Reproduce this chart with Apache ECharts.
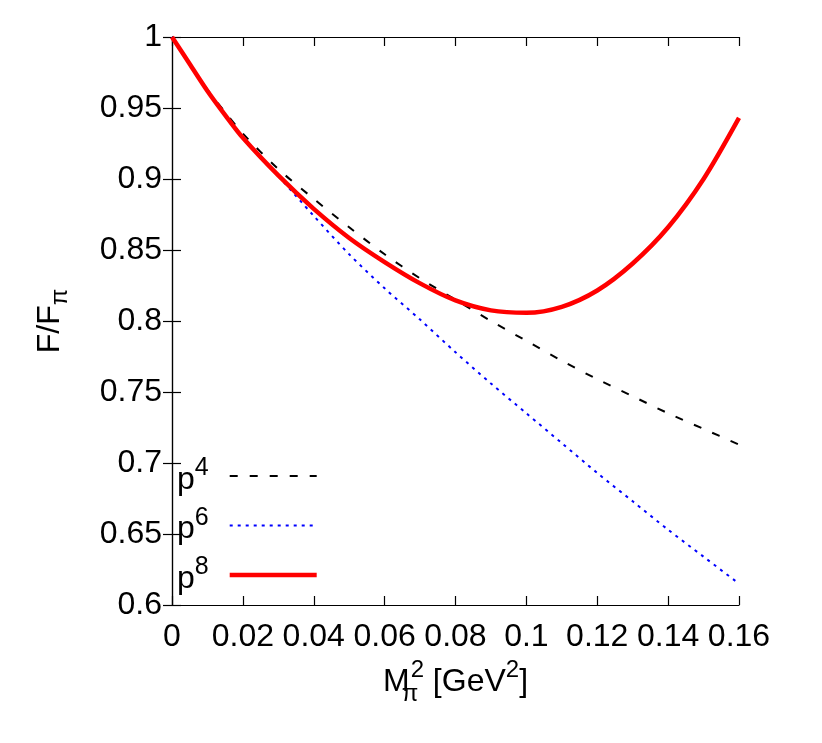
<!DOCTYPE html>
<html>
<head>
<meta charset="utf-8">
<script src="https://cdn.jsdelivr.net/npm/echarts@6/dist/echarts.min.js"></script>
<style>
  html, body { margin: 0; padding: 0; background: #fff; }
  #chart { width: 822px; height: 743px; }
</style>
</head>
<body>
<div id="chart"></div>
<script>
// M_pi^2 in GeV^2
var xs = [0, 0.005, 0.01, 0.015, 0.02, 0.03, 0.04, 0.05, 0.06, 0.07, 0.08, 0.09, 0.10, 0.11, 0.12, 0.13, 0.14, 0.15, 0.16];
// F/F_pi at each order
var p4 = [1.000, 0.981, 0.963, 0.947, 0.932, 0.907, 0.886, 0.866, 0.847, 0.830, 0.815, 0.800, 0.786, 0.772, 0.759, 0.747, 0.735, 0.724, 0.713];
var p6 = [1.000, 0.981, 0.962, 0.945, 0.929, 0.902, 0.874, 0.847, 0.823, 0.801, 0.778, 0.756, 0.735, 0.714, 0.693, 0.673, 0.653, 0.634, 0.615];
var p8 = [1.000, 0.981, 0.962, 0.945, 0.929, 0.9025, 0.879, 0.8585, 0.8415, 0.8265, 0.8145, 0.8075, 0.8058, 0.8100, 0.8215, 0.8405, 0.8660, 0.9000, 0.943];

var seriesNames = ['p4', 'p6', 'p8'];
var lineColors = ['#000000', '#0000ff', '#ff0000'];
var lineWidths = [2, 2, 4.5];
var font = 'Liberation Sans, Arial, sans-serif';

function pairs(ys) {
  return xs.map(function (x, i) { return [x, ys[i]]; });
}

var chart = echarts.init(document.getElementById('chart'));

var axisCommon = {
  axisLine: { show: true, lineStyle: { color: '#000', width: 1.2 } },
  axisTick: { show: true, inside: true, length: 9, lineStyle: { color: '#000', width: 1.2 } },
  splitLine: { show: false }
};

chart.setOption({
  animation: false,
  backgroundColor: '#fff',
  grid: { left: 172, right: 83, top: 37, bottom: 138 },
  legend: {
    orient: 'vertical',
    left: 172,
    top: 451,
    align: 'right',
    itemWidth: 87,
    itemHeight: 14,
    itemGap: 9.5,
    itemStyle: { opacity: 0 },
    data: seriesNames.map(function (n, i) {
      return { name: n, lineStyle: { color: lineColors[i], width: lineWidths[i] } };
    }),
    formatter: function (name) {
      return '{b|p}{s|' + name.slice(1) + '}';
    },
    textStyle: {
      padding: [0, 16, 0, 0],
      rich: {
        b: { fontFamily: font, fontSize: 32, color: '#000', lineHeight: 40, verticalAlign: 'bottom' },
        s: { fontFamily: font, fontSize: 25, color: '#000', lineHeight: 33, verticalAlign: 'top' }
      }
    }
  },
  xAxis: [
    Object.assign({
      type: 'value', min: 0, max: 0.16, interval: 0.02, position: 'bottom',
      name: '{n|M}{sub|π}{sup|2}{n| [GeV}{sup|2}{n|]}',
      nameLocation: 'middle',
      nameGap: 52,
      nameTextStyle: {
        rich: {
          n: { fontFamily: font, fontSize: 32, color: '#000', lineHeight: 48, verticalAlign: 'middle' },
          sub: { fontFamily: font, fontSize: 24, color: '#000', lineHeight: 24, verticalAlign: 'bottom', width: 1 },
          sup: { fontFamily: font, fontSize: 24, color: '#000', lineHeight: 30, verticalAlign: 'top' }
        }
      },
      axisLabel: { fontFamily: font, fontSize: 32, color: '#000', margin: 16 }
    }, axisCommon),
    Object.assign({
      type: 'value', min: 0, max: 0.16, interval: 0.02, position: 'top',
      axisLabel: { show: false }
    }, axisCommon)
  ],
  yAxis: [
    Object.assign({
      type: 'value', min: 0.6, max: 1, interval: 0.05, position: 'left',
      name: '{n|F/F}{sub|π}',
      nameLocation: 'middle',
      nameGap: 100,
      nameTextStyle: {
        rich: {
          n: { fontFamily: font, fontSize: 32, color: '#000', lineHeight: 44, verticalAlign: 'middle' },
          sub: { fontFamily: font, fontSize: 24, color: '#000', lineHeight: 24, verticalAlign: 'bottom' }
        }
      },
      axisLabel: { fontFamily: font, fontSize: 32, color: '#000', margin: 10 }
    }, axisCommon),
    Object.assign({
      type: 'value', min: 0.6, max: 1, interval: 0.05, position: 'right',
      axisLabel: { show: false }
    }, axisCommon)
  ],
  series: [
    {
      name: 'p4', type: 'line', data: pairs(p4), smooth: 0.3, showSymbol: false, symbol: 'none',
      itemStyle: { color: lineColors[0] },
      lineStyle: { color: lineColors[0], width: lineWidths[0], type: [8, 12] }, z: 2
    },
    {
      name: 'p6', type: 'line', data: pairs(p6), smooth: 0.3, showSymbol: false, symbol: 'none',
      itemStyle: { color: lineColors[1] },
      lineStyle: { color: lineColors[1], width: lineWidths[1], type: [3, 5] }, z: 3
    },
    {
      name: 'p8', type: 'line', data: pairs(p8), smooth: 0.3, showSymbol: false, symbol: 'none',
      itemStyle: { color: lineColors[2] },
      lineStyle: { color: lineColors[2], width: lineWidths[2] }, z: 4
    }
  ]
});
</script>
</body>
</html>
